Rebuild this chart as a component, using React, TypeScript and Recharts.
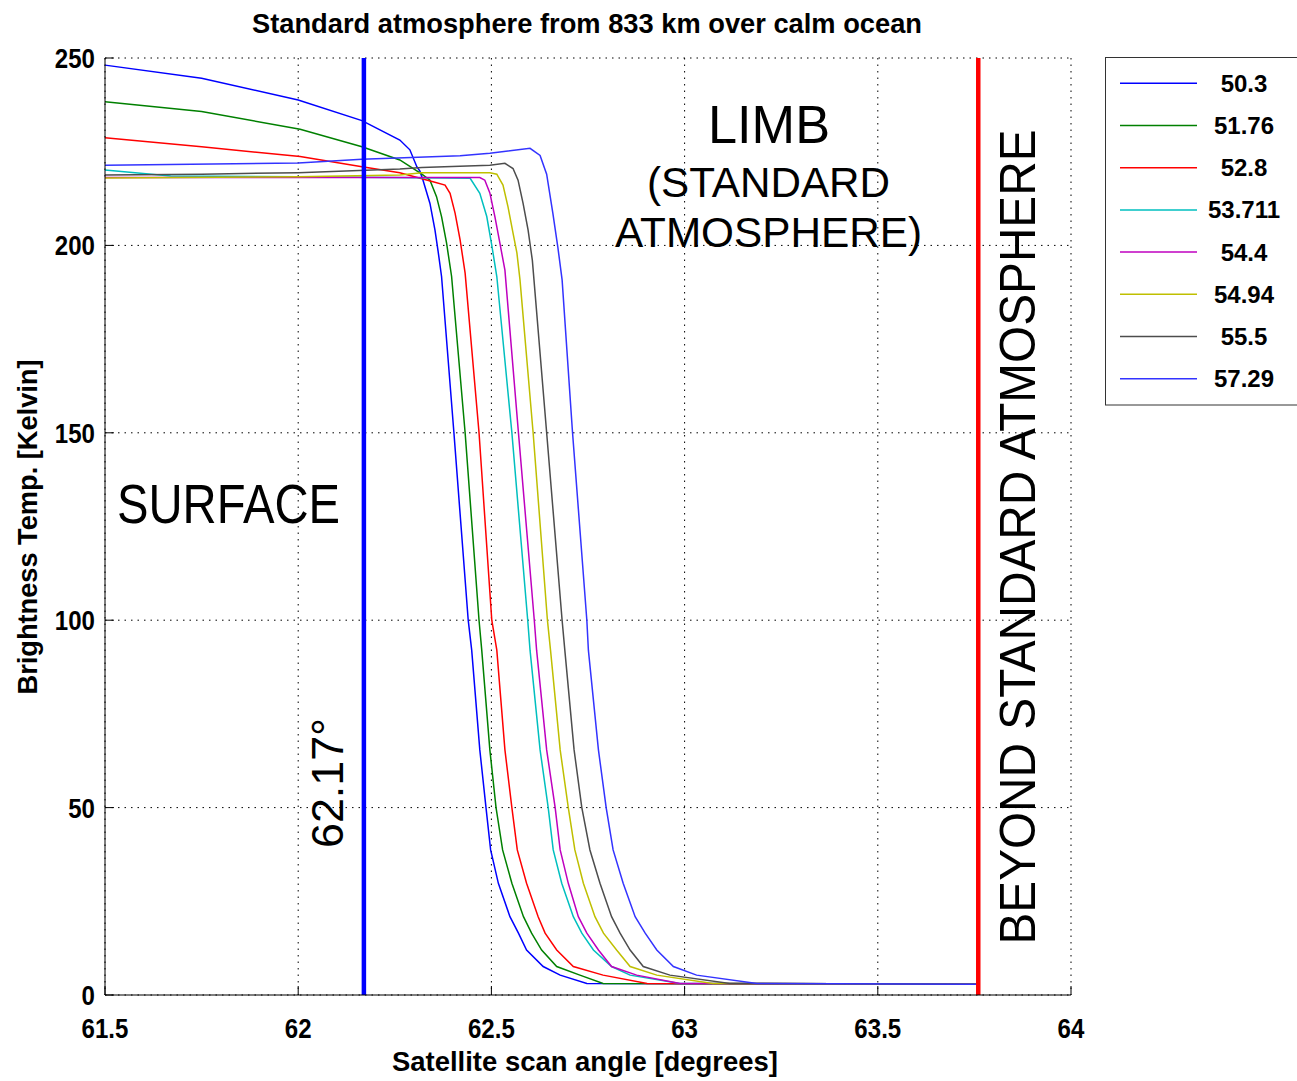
import { LineChart, Line, XAxis, YAxis, CartesianGrid, ReferenceLine } from "recharts"

// brightness temperature curves, [scan angle (deg), temp (K)], one per channel frequency
const s503 = [
  [61.5, 248.1], [61.75, 244.6], [62.0, 238.8], [62.165, 233.3], [62.263, 228.1], [62.289, 225.5],
  [62.307, 221.0], [62.315, 219.8], [62.323, 217.4], [62.341, 211.2], [62.354, 204.1], [62.362, 198.5],
  [62.371, 191.7], [62.403, 150.0], [62.44, 100.0], [62.449, 92.0], [62.47, 65.4], [62.486, 50.0],
  [62.498, 38.7], [62.518, 29.8], [62.548, 20.9], [62.57, 16.5], [62.591, 12.0], [62.634, 7.6],
  [62.678, 5.3], [62.747, 3.1], [63.76, 2.9],
]
const s5176 = [
  [61.5, 238.3], [61.75, 235.7], [62.005, 231.0], [62.165, 226.3], [62.263, 222.8], [62.32, 219.0],
  [62.341, 217.4], [62.358, 213.0], [62.371, 207.7], [62.384, 200.6], [62.397, 191.7], [62.432, 150.0],
  [62.468, 100.0], [62.475, 92.0], [62.496, 65.4], [62.512, 50.0], [62.529, 38.7], [62.553, 29.8],
  [62.583, 20.9], [62.604, 16.5], [62.63, 12.0], [62.669, 7.6], [62.729, 5.3], [62.789, 3.1], [63.76, 2.9],
]
const s528 = [
  [61.5, 228.7], [61.75, 226.3], [62.005, 223.7], [62.165, 221.0], [62.263, 219.4], [62.349, 217.0],
  [62.38, 216.1], [62.393, 213.9], [62.406, 208.6], [62.419, 201.5], [62.432, 192.6], [62.468, 150.0],
  [62.501, 100.0], [62.514, 92.0], [62.535, 65.4], [62.553, 50.0], [62.567, 38.7], [62.591, 29.8],
  [62.621, 20.9], [62.639, 16.5], [62.669, 12.0], [62.712, 7.6], [62.789, 5.3], [62.903, 3.1], [63.76, 2.9],
]
const s53711 = [
  [61.5, 220.1], [61.67, 218.5], [62.0, 218.3], [62.445, 217.9], [62.47, 213.9], [62.488, 207.7],
  [62.501, 200.0], [62.514, 191.7], [62.553, 150.0], [62.594, 100.0], [62.6, 92.0], [62.626, 65.4],
  [62.647, 50.0], [62.66, 38.7], [62.682, 29.8], [62.712, 20.9], [62.734, 16.5], [62.764, 12.0],
  [62.811, 7.6], [62.859, 5.3], [62.988, 3.1], [63.76, 2.9],
]
const s544 = [
  [61.5, 218.1], [62.47, 218.1], [62.483, 217.4], [62.496, 214.0], [62.509, 207.7], [62.522, 200.6],
  [62.535, 193.4], [62.57, 150.0], [62.611, 100.0], [62.617, 92.0], [62.643, 65.4], [62.665, 50.0],
  [62.678, 38.7], [62.699, 29.8], [62.725, 20.9], [62.747, 16.5], [62.777, 12.0], [62.811, 7.6],
  [62.876, 5.3], [62.988, 3.1], [63.76, 2.9],
]
const s5494 = [
  [61.5, 218.0], [62.0, 218.3], [62.263, 218.8], [62.32, 219.4], [62.496, 219.4], [62.514, 219.0],
  [62.53, 216.1], [62.543, 210.3], [62.556, 203.3], [62.566, 198.0], [62.574, 190.8], [62.608, 150.0],
  [62.645, 100.0], [62.653, 92.0], [62.678, 65.4], [62.699, 50.0], [62.716, 38.7], [62.738, 29.8],
  [62.768, 20.9], [62.79, 16.5], [62.824, 12.0], [62.859, 7.6], [62.928, 5.3], [63.073, 3.1], [63.76, 2.9],
]
const s555 = [
  [61.5, 218.8], [61.75, 219.0], [62.0, 219.4], [62.263, 220.4], [62.32, 220.8], [62.496, 221.4],
  [62.535, 221.9], [62.556, 220.5], [62.569, 217.4], [62.582, 211.2], [62.595, 204.1], [62.606, 196.0],
  [62.643, 150.0], [62.683, 100.0], [62.69, 92.0], [62.714, 65.4], [62.734, 50.0], [62.755, 38.7],
  [62.781, 29.8], [62.811, 20.9], [62.833, 16.5], [62.859, 12.0], [62.893, 7.6], [62.962, 5.3],
  [63.117, 3.1], [63.76, 2.9],
]
const s5729 = [
  [61.5, 221.4], [62.0, 222.0], [62.165, 223.0], [62.419, 223.9], [62.496, 224.6], [62.6, 225.9],
  [62.626, 224.0], [62.643, 219.0], [62.659, 208.6], [62.672, 199.5], [62.683, 190.8], [62.71, 150.0],
  [62.747, 100.0], [62.751, 92.0], [62.777, 65.4], [62.797, 50.0], [62.815, 38.7], [62.841, 29.8],
  [62.872, 20.9], [62.898, 16.5], [62.928, 12.0], [62.971, 7.6], [63.031, 5.3], [63.187, 3.1], [63.76, 2.9],
]

const seriesNames = ["50.3", "51.76", "52.8", "53.711", "54.4", "54.94", "55.5", "57.29"]
const seriesColors = ["#0000ff", "#008000", "#ff0000", "#00bfbf", "#bf00bf", "#bfbf00", "#4d4d4d", "#3333ff"]
const seriesPoints = [s503, s5176, s528, s53711, s544, s5494, s555, s5729]

const xTicks = [61.5, 62, 62.5, 63, 63.5, 64]
const yTicks = [0, 50, 100, 150, 200, 250]
const surfaceAngle = 62.17
const spaceAngle = 63.76

const W = 1297
const H = 1081
const boldFont = "'Liberation Sans', Arial, sans-serif"
const plainFont = "'Liberation Sans', Arial, sans-serif"
const blank = () => ""

// matlab-ish condensed bold tick labels
function YTick(props: any) {
  const { x, y, payload } = props
  return (
    <g transform={`translate(${x},${y})`}>
      <text transform="scale(0.86,1)" textAnchor="end" dy="0.36em" fontFamily={boldFont} fontWeight={700}
        fontSize={28} fill="#000">
        {payload.value}
      </text>
    </g>
  )
}

function XTick(props: any) {
  const { x, y, payload } = props
  return (
    <g transform={`translate(${x},${y})`}>
      <text transform="scale(0.86,1)" textAnchor="middle" dy="0.71em" fontFamily={boldFont} fontWeight={700}
        fontSize={28} fill="#000">
        {payload.value}
      </text>
    </g>
  )
}

export default function App() {
  return (
    <div style={{ position: "absolute", left: 0, top: 0, width: W, height: H, background: "#fff" }}>
      <LineChart width={W} height={H} margin={{ top: 58, right: 226, bottom: 36, left: 45 }}>
        <CartesianGrid stroke="#000" strokeDasharray="1.5 5" />
        <XAxis
          dataKey="a"
          type="number"
          domain={[61.5, 64]}
          ticks={xTicks}
          interval={0}
          height={50}
          tickSize={-9}
          tickMargin={32}
          stroke="#000"
          tick={<XTick />}
        />
        <XAxis
          xAxisId="top"
          orientation="top"
          type="number"
          domain={[61.5, 64]}
          ticks={xTicks}
          interval={0}
          height={0}
          tickSize={-9}
          tickFormatter={blank}
          stroke="#000"
        />
        <YAxis
          type="number"
          domain={[0, 250]}
          ticks={yTicks}
          interval={0}
          width={60}
          tickSize={-9}
          tickMargin={19}
          stroke="#000"
          tick={<YTick />}
        />
        <YAxis
          yAxisId="right"
          orientation="right"
          type="number"
          domain={[0, 250]}
          ticks={yTicks}
          interval={0}
          width={0}
          tickSize={-9}
          tickFormatter={blank}
          stroke="#000"
        />
        {seriesPoints.map((pts, i) => (
          <Line
            key={seriesNames[i]}
            data={pts.map(([a, t]) => ({ a, t }))}
            dataKey="t"
            name={seriesNames[i]}
            type="linear"
            stroke={seriesColors[i]}
            strokeWidth={1.5}
            dot={false}
            isAnimationActive={false}
          />
        ))}
        <ReferenceLine x={surfaceAngle} stroke="#0000ff" strokeWidth={4.5} />
        <ReferenceLine x={spaceAngle} stroke="#ff0000" strokeWidth={4.5} />
      </LineChart>

      <svg
        width={W}
        height={H}
        style={{ position: "absolute", left: 0, top: 0, pointerEvents: "none" }}
      >
        <text x={587} y={33} textAnchor="middle" fontFamily={boldFont} fontWeight={700} fontSize={27}
          textLength={670} lengthAdjust="spacingAndGlyphs">
          Standard atmosphere from 833 km over calm ocean
        </text>
        <text x={585} y={1071} textAnchor="middle" fontFamily={boldFont} fontWeight={700} fontSize={27}
          textLength={386} lengthAdjust="spacingAndGlyphs">
          Satellite scan angle [degrees]
        </text>
        <text transform="translate(37,527) rotate(-90)" textAnchor="middle" fontFamily={boldFont}
          fontWeight={700} fontSize={27} textLength={335} lengthAdjust="spacingAndGlyphs">
          Brightness Temp. [Kelvin]
        </text>

        <text x={228.5} y={523} textAnchor="middle" fontFamily={plainFont} fontSize={55}
          textLength={223} lengthAdjust="spacingAndGlyphs">SURFACE</text>
        <text x={769} y={143} textAnchor="middle" fontFamily={plainFont} fontSize={53}
          textLength={122} lengthAdjust="spacingAndGlyphs">LIMB</text>
        <text x={768.5} y={197} textAnchor="middle" fontFamily={plainFont} fontSize={42}
          textLength={243} lengthAdjust="spacingAndGlyphs">(STANDARD</text>
        <text x={768.5} y={247} textAnchor="middle" fontFamily={plainFont} fontSize={42}
          textLength={307} lengthAdjust="spacingAndGlyphs">ATMOSPHERE)</text>
        <text transform="translate(343,783) rotate(-90)" textAnchor="middle" fontFamily={plainFont}
          fontSize={44} textLength={130} lengthAdjust="spacingAndGlyphs">62.17°</text>
        <text transform="translate(1035,537) rotate(-90)" textAnchor="middle" fontFamily={plainFont}
          fontSize={50} textLength={815} lengthAdjust="spacingAndGlyphs">BEYOND STANDARD ATMOSPHERE</text>

        <rect x={1105.5} y={57.5} width={200} height={347.5} fill="#fff" stroke="#333" />
        {seriesNames.map((name, i) => {
          const y = 83.3 + 42.2 * i
          return (
            <g key={name}>
              <line x1={1120} x2={1197} y1={y} y2={y} stroke={seriesColors[i]} strokeWidth={1.5} />
              <text x={1244} y={y + 8.5} textAnchor="middle" fontFamily={boldFont} fontWeight={700} fontSize={24}>
                {name}
              </text>
            </g>
          )
        })}
      </svg>
    </div>
  )
}
